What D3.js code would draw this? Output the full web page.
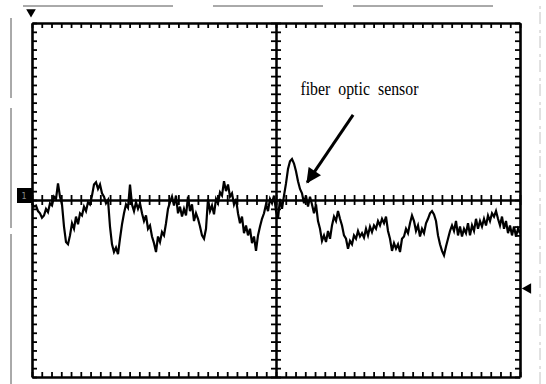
<!DOCTYPE html>
<html>
<head>
<meta charset="utf-8">
<script src="https://cdn.jsdelivr.net/npm/d3@7"></script>
<style>
  html, body { margin: 0; padding: 0; background: #fff; }
  svg { display: block; }
  .edge .domain { stroke: #000; stroke-width: 2.6; }
  .edge .tick line { stroke: #000; stroke-width: 1.8; }
  .cross .domain { stroke: #000; stroke-width: 2; }
  .cross .tick line { stroke: #000; stroke-width: 1.8; }
</style>
</head>
<body>
<div id="chart"></div>
<script>
// scope settings: 10 horizontal divisions, 8 vertical divisions
const timePerDiv = 50;   // ms / div
const voltPerDiv = 40;   // mV / div
const xDivs = 10;
const yDivs = 8;
const minorPerDiv = 5;

// trace, one sample every ~2.05 ms (mV)
const traceValues = [
  -3, -6, -5, -10, -12, -16, -14, -8, -11, -3, -5, 3, 1,
  15, 3, -4, -24, -38,
  -40, -32, -21, -26, -15, -22, -12,
  -14, -6, -10, -2, -4,
  4, 14, 16, 10, 14, 6,
  3, -3, 0,
  -24, -40, -47, -43, -49, -35, -22,
  -12, -4, -7, 14, -4, -10, -2, -8, -3, -12,
  -19, -14, -26, -23, -33, -39, -47,
  -33, -38, -29, -32, -21, -8, -2, 3,
  -5, 4, -12, -6, -15, -8, -14,
  3, -10, -4, -19, -12, -17, -24,
  -32, -35, -26, 1, -10,
  -5, -13, 1, -3, 7, 4, 17, 8, 14, 3,
  6, -4, 1, -12, -21, -15, -30,
  -23, -32, -26, -39, -33, -46,
  -32, -24, -17, -12, -4, -10, 1,
  -3, 4, -10, -17, 1, -8, 4,
  15, 28, 35, 37, 33, 26, 17, 10,
  6, -3, 4, -6, 3, -4,
  -12, -4, -19, -26, -37, -32, -38, -28, -35,
  -23, -15, -19, -10, -17, -23, -32, -35,
  -44, -37, -40, -32, -35, -28, -33,
  -30, -34, -26, -32, -24, -29, -23,
  -26, -19, -23, -17, -21, -15, -28,
  -35, -46, -39, -44, -40, -47, -35,
  -33, -26, -30, -21, -14, -19,
  -28, -23, -33, -26, -30, -21,
  -17, -12, -10, -13, -19, -32,
  -40, -46, -50, -42, -35, -28, -23,
  -28, -19, -32, -24, -33, -26, -30,
  -21, -32, -23, -28, -17, -26, -19,
  -24, -17, -23, -14, -19, -12, -15,
  -10, -17, -23, -15, -26, -19, -30,
  -23, -32, -24, -33, -26, -30
];

const annotationText = "fiber optic sensor";

const frame = { left: 32, right: 520, top: 23, bottom: 377 };
const W = 546, H = 384;

const tMax = timePerDiv * xDivs;
const vMax = voltPerDiv * yDivs / 2;
const dt = tMax / (traceValues.length - 1);
const trace = traceValues.map((v, i) => ({ t: i * dt, v: v }));

const x = d3.scaleLinear().domain([0, tMax]).range([frame.left, frame.right]);
const y = d3.scaleLinear().domain([-vMax, vMax]).range([frame.bottom, frame.top]);

const xMinor = d3.range(0, xDivs * minorPerDiv + 1).map(i => i * timePerDiv / minorPerDiv);
const yMinor = d3.range(0, yDivs * minorPerDiv + 1).map(i => -vMax + i * voltPerDiv / minorPerDiv);

const svg = d3.select('#chart').append('svg')
  .attr('width', W)
  .attr('height', H);

// scanned page border
svg.append('path')
  .attr('d', `M11,${H}V6H${W - 6}`)
  .attr('fill', 'none')
  .attr('stroke', '#555')
  .attr('stroke-width', 1)
  .attr('stroke-dasharray', '150,6,120,10,80,24,150,40,110,30,140');
svg.append('line')
  .attr('x1', 540).attr('x2', 540).attr('y1', 6).attr('y2', H)
  .attr('stroke', '#c4c4c4')
  .attr('stroke-width', 1)
  .attr('stroke-dasharray', '3,3,12,6');

// frame edges with inward minor ticks
svg.append('g').attr('class', 'edge')
  .attr('transform', `translate(0,${frame.top})`)
  .call(d3.axisBottom(x).tickValues(xMinor).tickSize(5).tickSizeOuter(0).tickFormat(''));
svg.append('g').attr('class', 'edge')
  .attr('transform', `translate(0,${frame.bottom})`)
  .call(d3.axisTop(x).tickValues(xMinor).tickSize(5).tickSizeOuter(0).tickFormat(''));
svg.append('g').attr('class', 'edge')
  .attr('transform', `translate(${frame.left},0)`)
  .call(d3.axisRight(y).tickValues(yMinor).tickSize(5).tickSizeOuter(0).tickFormat(''));
svg.append('g').attr('class', 'edge')
  .attr('transform', `translate(${frame.right},0)`)
  .call(d3.axisLeft(y).tickValues(yMinor).tickSize(5).tickSizeOuter(0).tickFormat(''));

// centre cross with ticks on both sides
[d3.axisTop, d3.axisBottom].forEach(ax => {
  svg.append('g').attr('class', 'cross')
    .attr('transform', `translate(0,${y(0)})`)
    .call(ax(x).tickValues(xMinor).tickSize(5).tickSizeOuter(0).tickFormat(''));
});
[d3.axisLeft, d3.axisRight].forEach(ax => {
  svg.append('g').attr('class', 'cross')
    .attr('transform', `translate(${x(tMax / 2)},0)`)
    .call(ax(y).tickValues(yMinor).tickSize(5).tickSizeOuter(0).tickFormat(''));
});

// signal trace
const line = d3.line()
  .x(d => x(d.t))
  .y(d => y(d.v));

svg.append('path')
  .datum(trace)
  .attr('fill', 'none')
  .attr('stroke', '#000')
  .attr('stroke-width', 2.2)
  .attr('stroke-linejoin', 'miter')
  .attr('d', line);

// screen markers: trigger, channel ground, trigger level
svg.append('path')
  .attr('d', d3.symbol().type(d3.symbolTriangle).size(40)())
  .attr('transform', `translate(${frame.left - 1},12) rotate(180)`)
  .attr('fill', '#000');

svg.append('rect')
  .attr('x', 17).attr('y', y(0) - 12)
  .attr('width', frame.left - 17).attr('height', 15)
  .attr('fill', '#000');
svg.append('text')
  .attr('x', 24).attr('y', y(0) - 1)
  .attr('text-anchor', 'middle')
  .attr('font-family', 'DejaVu Sans')
  .attr('font-size', 8)
  .attr('fill', '#888')
  .text('1');

svg.append('path')
  .attr('d', d3.symbol().type(d3.symbolTriangle).size(50)())
  .attr('transform', `translate(${frame.right + 8},${y(-80)}) rotate(-90)`)
  .attr('fill', '#000');

// annotation
const arrowTail = { t: 329, v: 77 };
const arrowTip = { t: 282, v: 16 };

svg.append('defs').append('marker')
  .attr('id', 'head')
  .attr('viewBox', '0 0 10 10')
  .attr('refX', 9).attr('refY', 5)
  .attr('markerWidth', 5.5).attr('markerHeight', 5)
  .attr('orient', 'auto')
  .append('path')
  .attr('d', 'M0,0L10,5L0,10Z')
  .attr('fill', '#000');

svg.append('line')
  .attr('x1', x(arrowTail.t)).attr('y1', y(arrowTail.v))
  .attr('x2', x(arrowTip.t)).attr('y2', y(arrowTip.v))
  .attr('stroke', '#000')
  .attr('stroke-width', 3)
  .attr('marker-end', 'url(#head)');

svg.append('text')
  .attr('x', x(275)).attr('y', y(95))
  .attr('font-family', 'Liberation Serif, serif')
  .attr('font-size', 19)
  .attr('word-spacing', 5)
  .attr('textLength', 118)
  .attr('lengthAdjust', 'spacingAndGlyphs')
  .attr('fill', '#000')
  .text(annotationText);
</script>
</body>
</html>
